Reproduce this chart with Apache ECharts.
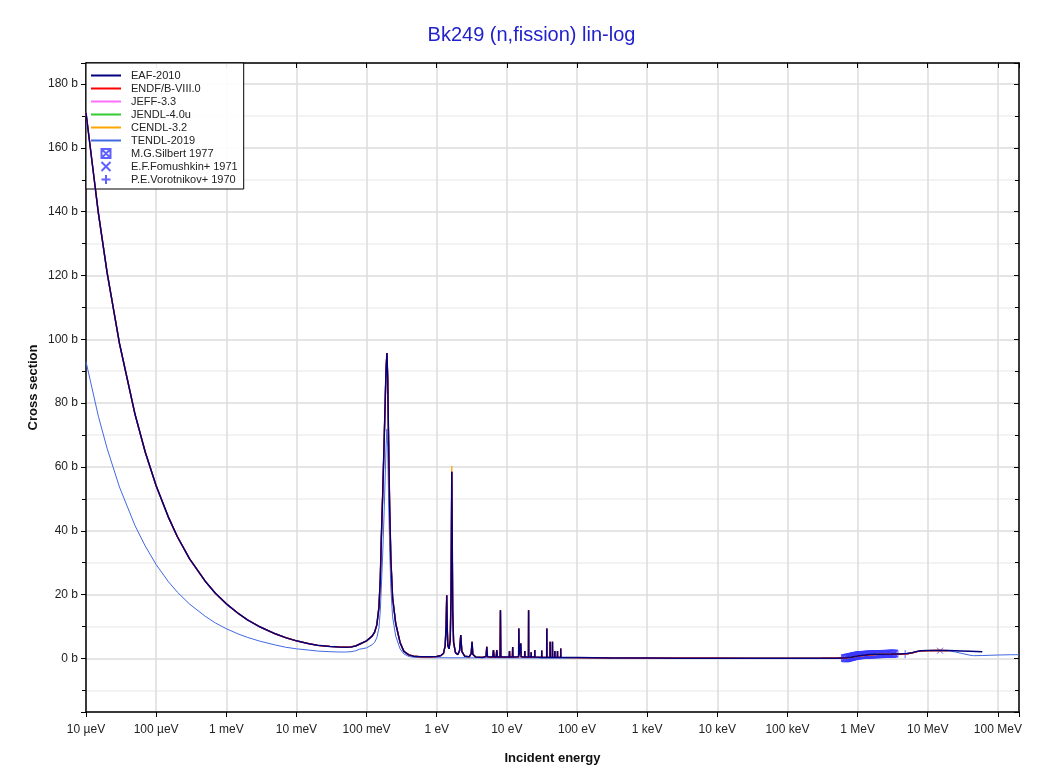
<!DOCTYPE html>
<html>
<head>
<meta charset="utf-8">
<script src="https://cdn.jsdelivr.net/npm/echarts@6/dist/echarts.min.js"></script>
<style>
html,body{margin:0;padding:0;background:#fff;}
#chart{width:1063px;height:773px;}
</style>
</head>
<body>
<div id="chart"></div>
<script>
// ---------- data (energies in eV, cross sections in barns) ----------
const seriesNames = ['EAF-2010','ENDF/B-VIII.0','JEFF-3.3','JENDL-4.0u','CENDL-3.2','TENDL-2019',
  'M.G.Silbert 1977','E.F.Fomushkin+ 1971','P.E.Vorotnikov+ 1970'];

const xTickLabels = ['10 µeV','100 µeV','1 meV','10 meV','100 meV','1 eV','10 eV','100 eV',
  '1 keV','10 keV','100 keV','1 MeV','10 MeV','100 MeV'];

// thermal region + first resonance (shared energy grid)
const lowE = [1e-5,1.5e-5,2e-5,3e-5,5e-5,7e-5,1e-4,1.5e-4,2e-4,3e-4,5e-4,7e-4,1e-3,1.5e-3,2e-3,3e-3,
  5e-3,7e-3,1e-2,1.5e-2,2e-2,3e-2,4e-2,0.05,0.06,0.07,0.08,0.1,0.12,0.13,0.14,0.15,0.157,0.162,0.17,
  0.178,0.186,0.19,0.195,0.2,0.206,0.213,0.222,0.235,0.26,0.3,0.34,0.4,0.47,0.6];
const eafLow = [171,139.6,120.9,98.7,76.5,64.6,54.1,44.2,38.2,31.2,24.2,20.4,17.1,14.0,12.1,9.9,
  7.7,6.5,5.5,4.6,4.1,3.75,3.6,3.5,3.6,3.9,4.5,5.5,7.0,8.2,10.5,16,25,37,52,
  68,84,91,95.7,88,68,48,31,19,11,5,2.2,1.1,0.7,0.5];
const tendlLow = [93,75.9,65.8,53.7,41.6,35.2,29.4,24.0,20.8,17.0,13.2,11.1,9.3,7.6,6.6,5.4,
  4.2,3.5,3.0,2.6,2.3,2.1,2.0,2.0,2.1,2.4,2.9,3.3,4.3,5.0,6.5,9.5,15,22,33,
  46,60,67,71.9,66,50,35,22,13,7,3,1.4,0.6,0.35,0.25];

// resolved resonances and smooth region up to 700 keV (EAF-2010 and the other evaluations)
const eafResonances = [
  [0.8,0.5],[1.0,0.6],[1.15,0.9],[1.25,1.6],[1.32,4],[1.36,10],[1.389,19.8],[1.41,10],[1.44,4],
  [1.5,3],[1.56,6],[1.6,20],[1.62,40],[1.64,58.5],[1.66,40],[1.69,15],[1.74,5],[1.85,1.8],[2.0,1.2],
  [2.12,2.5],[2.2,7.3],[2.28,2.2],[2.5,0.7],[2.9,0.5],[3.1,1.5],[3.19,5.2],[3.27,1.3],[3.6,0.4],
  [4.5,0.3],[5.05,0.6],[5.17,3.6],[5.29,0.5],[6.3,0.4],[6.44,2.6],[6.58,0.4],[7.05,0.4],[7.18,2.6],
  [7.31,0.4],[8.0,0.4],[8.1,15.1],[8.2,0.4],[10.8,0.4],[10.9,2.3],[11.0,0.4],[12.0,0.4],[12.1,3.6],
  [12.2,0.4],[14.7,0.5],[14.8,9.4],[14.95,1],[15.8,4.7],[15.95,0.5],[17.9,0.4],[18.0,2.3],[18.1,0.4],
  [20.3,0.4],[20.4,15.1],[20.5,0.4],[22.1,0.4],[22.2,1.9],[22.3,0.4],[24.9,0.4],[25.0,2.6],[25.1,0.4],
  [31.3,0.3],[31.4,2.5],[31.5,0.3],[36.9,0.3],[37.1,9.4],[37.3,0.3],[41.2,0.3],[41.4,5.2],[41.6,0.3],
  [44.5,0.3],[44.7,5.2],[44.9,0.3],[48.1,0.3],[48.3,2.3],[48.5,0.3],[52.5,0.3],[52.7,2.3],[52.9,0.3],
  [58.4,0.3],[58.6,3.1],[58.8,0.3],[100,0.25],[300,0.15],[1000,0.1],[3000,0.06],[1e4,0.04],
  [3e4,0.03],[1e5,0.03],[3e5,0.04],[5e5,0.08],[7e5,0.2]];
const cendlPeak = [1.64, 60.3];

const tendlMid = [[0.8,0.22],[1,0.2],[3,0.18],[10,0.15],[100,0.1],[1000,0.08],[1e4,0.05],
  [1e5,0.03],[3e5,0.04],[5e5,0.06],[7e5,0.2]];

// fast region
const eafHigh = [[8e5,0.35],[1e6,0.75],[1.2e6,1.0],[1.5e6,1.2],[2e6,1.3],[3e6,1.35],[4e6,1.4],
  [5e6,1.5],[6e6,1.75],[7e6,2.2],[8e6,2.4],[1e7,2.5],[1.4e7,2.5],[2e7,2.45],[3e7,2.35],[4e7,2.25],[6e7,2.1]];
const endfHigh = [[8e5,0.3],[1e6,0.7],[1.5e6,1.1],[2e6,1.25],[3e6,1.3],[5e6,1.45],[6e6,1.7],
  [7e6,2.1],[8e6,2.35],[1e7,2.45],[1.4e7,2.5],[2e7,2.45]];
const tendlHigh = [[1e6,0.7],[1.5e6,1.15],[2e6,1.3],[3e6,1.35],[5e6,1.5],[7e6,2.1],[1e7,2.45],
  [1.4e7,2.5],[2e7,2.35],[2.5e7,2.0],[3e7,1.6],[4e7,1.0],[4.5e7,0.85],[6e7,0.9],[1e8,1.05],
  [1.5e8,1.15],[2e8,1.15]];

// experimental data
const silbert1977 = [[6.6e5,0.1],[6.8e5,0.0],[7.0e5,0.2],[7.2e5,0.1],[7.5e5,0.35],[7.8e5,0.3],
  [8.0e5,0.45],[8.3e5,0.5],[8.6e5,0.6],[8.9e5,0.7],[9.2e5,0.75],[9.6e5,0.85],[1.0e6,0.9],
  [1.04e6,0.95],[1.08e6,1.0],[1.12e6,1.0],[1.17e6,1.05],[1.22e6,1.1],[1.27e6,1.1],[1.32e6,1.15],
  [1.38e6,1.15],[1.44e6,1.2],[1.5e6,1.2],[1.56e6,1.25],[1.63e6,1.25],[1.7e6,1.3],[1.77e6,1.3],
  [1.85e6,1.3],[1.92e6,1.3],[2.0e6,1.35],[2.08e6,1.35],[2.17e6,1.35],[2.25e6,1.35],[2.35e6,1.4],
  [2.45e6,1.4],[2.55e6,1.4],[2.65e6,1.4],[2.76e6,1.45],[2.87e6,1.45],[3.0e6,1.45],[3.1e6,1.45],
  [3.22e6,1.5],[3.35e6,1.5]];
const fomushkin1971 = [[1.5e7,2.4]];
const vorotnikov1970 = [[4.76e6,1.35]];

// ---------- build series data ----------
const zip = (es, xs) => es.map((e, i) => [e, xs[i]]);
const eafData = zip(lowE, eafLow).concat(eafResonances, eafHigh);
const endfData = zip(lowE, eafLow).concat(eafResonances, endfHigh);
const cendlData = zip(lowE, eafLow).concat(
  eafResonances.map(p => (p[0] === cendlPeak[0] ? cendlPeak : p)), endfHigh);
const tendlData = zip(lowE, tendlLow).concat(tendlMid, tendlHigh);

const colors = {
  'EAF-2010':'#000080','ENDF/B-VIII.0':'#ff0000','JEFF-3.3':'#ff70ff','JENDL-4.0u':'#33cc33',
  'CENDL-3.2':'#ffa500','TENDL-2019':'#4169e1'
};
const expColor = '#3a3aff';
const font = '"Liberation Sans", Arial, sans-serif';

function lineSeries(name, data, width, z) {
  return {
    name, type:'line', data, showSymbol:false, symbol:'none', z,
    lineStyle:{color:colors[name], width}, itemStyle:{color:colors[name]},
    emphasis:{disabled:true}, silent:true
  };
}
function scatterSeries(name, data, symbol, size) {
  return {
    name, type:'scatter', data, symbol, symbolSize:size, z:1,
    itemStyle:{color:'transparent', borderColor:expColor, borderWidth:1},
    emphasis:{disabled:true}, silent:true
  };
}

const boxX = 'path://M0,0H10V10H0ZM0,0L10,10M10,0L0,10';
const crossX = 'path://M0,0L10,10M10,0L0,10';
const plus = 'path://M5,0V10M0,5H10';
const lineIcon = 'path://M0,0H30V2H0Z';
const expIcons = [boxX, 'path://M1,1L9,9M9,1L1,9', 'path://M5,0V10M0,5H10'];

const legendData = seriesNames.map((n, i) => ({name:n, icon: i < 6 ? lineIcon : expIcons[i - 6]}));

const chart = echarts.init(document.getElementById('chart'), null, {renderer:'canvas'});
const option = {
  animation:false,
  backgroundColor:'#fff',
  title:{
    text:'Bk249 (n,fission) lin-log', left:'center', top:20,
    textStyle:{color:'#2222cc', fontSize:20, fontWeight:'normal', fontFamily:font}
  },
  grid:{left:86, right:44, top:63, bottom:61},
  legend:{
    orient:'vertical', left:86, top:63, padding:[7,6,4,5],
    itemWidth:30, itemHeight:9, itemGap:2,
    backgroundColor:'rgba(255,255,255,0.92)', borderColor:'#000', borderWidth:1,
    selectedMode:false, data:legendData,
    textStyle:{fontSize:11, fontFamily:font, color:'#222', lineHeight:11, padding:[0,0,0,5]}
  },
  xAxis:[{
    type:'log', logBase:10, min:1e-5, max:2e8, interval:1, splitNumber:13, position:'bottom',
    axisLine:{show:true, onZero:false, lineStyle:{color:'#000', width:1.5}},
    axisTick:{show:true, length:5, lineStyle:{color:'#000'}},
    minorTick:{show:false},
    axisLabel:{fontSize:12, fontFamily:font, color:'#222', margin:12,
      formatter:v => { const e = Math.log10(v); const r = Math.round(e);
        if (Math.abs(e - r) > 1e-6) return ''; return xTickLabels[r + 5] || ''; }},
    splitLine:{show:true, lineStyle:{color:'#dcdcdc', width:1.5}},
    name:'Incident energy', nameLocation:'middle', nameGap:40, nameMoveOverlap:false,
    nameTextStyle:{fontSize:13, fontWeight:'bold', fontFamily:font, color:'#111'}
  },{
    type:'log', logBase:10, min:1e-5, max:2e8, interval:1, splitNumber:13, position:'top',
    axisLine:{show:true, onZero:false, lineStyle:{color:'#000', width:1.5}},
    axisTick:{show:true, inside:true, length:5, lineStyle:{color:'#000'}},
    axisLabel:{show:false}, splitLine:{show:false}
  }],
  yAxis:[{
    type:'value', min:-16.8, max:186.6, splitNumber:10, position:'left',
    axisLine:{show:true, onZero:false, lineStyle:{color:'#000', width:1.5}},
    axisTick:{show:true, length:5, lineStyle:{color:'#000'}},
    minorTick:{show:true, splitNumber:2, length:4, lineStyle:{color:'#000'}},
    minorSplitLine:{show:true, lineStyle:{color:'#f0f0f0', width:1.5}},
    splitLine:{show:true, lineStyle:{color:'#dcdcdc', width:1.5}},
    axisLabel:{fontSize:12, fontFamily:font, color:'#222', margin:8,
      formatter:v => (Math.abs(v % 20) < 1e-9 ? (Math.round(v) + ' b') : '')},
    name:'Cross section', nameLocation:'middle', nameGap:46, nameMoveOverlap:false,
    nameTextStyle:{fontSize:13, fontWeight:'bold', fontFamily:font, color:'#111'}
  },{
    type:'value', min:-16.8, max:186.6, splitNumber:10, position:'right',
    axisLine:{show:true, onZero:false, lineStyle:{color:'#000', width:1.5}},
    axisTick:{show:true, inside:true, length:5, lineStyle:{color:'#000'}},
    minorTick:{show:true, splitNumber:2, length:4, lineStyle:{color:'#000'}},
    axisLabel:{show:false}, splitLine:{show:false}
  }],
  series:[
    scatterSeries('M.G.Silbert 1977', silbert1977, boxX, 7),
    scatterSeries('E.F.Fomushkin+ 1971', fomushkin1971, crossX, 6),
    scatterSeries('P.E.Vorotnikov+ 1970', vorotnikov1970, plus, 8),
    lineSeries('TENDL-2019', tendlData, 1, 2),
    lineSeries('JENDL-4.0u', endfData, 1.3, 3),
    lineSeries('JEFF-3.3', endfData, 1.3, 4),
    lineSeries('CENDL-3.2', cendlData, 1.3, 5),
    lineSeries('ENDF/B-VIII.0', endfData, 1.3, 6),
    lineSeries('EAF-2010', eafData, 1.5, 7)
  ]
};
chart.setOption(option);
</script>
</body>
</html>
